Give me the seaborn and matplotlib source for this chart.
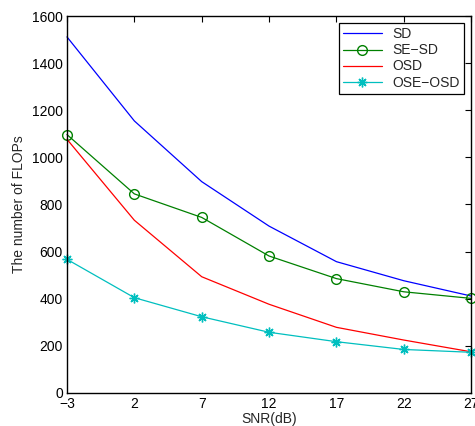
import matplotlib
matplotlib.use("Agg")
import matplotlib.pyplot as plt
import seaborn as sns

# data
snr = [-3, 2, 7, 12, 17, 22, 27]
sd = [1512, 1155, 897, 708, 557, 476, 411]
se_sd = [1097, 845, 745, 581, 485, 429, 401]
osd = [1077, 733, 493, 376, 278, 224, 174]
ose_osd = [567, 404, 323, 257, 217, 184, 172]
names = ["SD", "SE\u2212SD", "OSD", "OSE\u2212OSD"]
series = [sd, se_sd, osd, ose_osd]

sns.set_style("white")
plt.rcParams["font.family"] = ["Liberation Sans", "DejaVu Sans"]

fig = plt.figure(figsize=(4.75, 4.26), dpi=100)
ax = fig.add_axes([0.141, 0.078, 0.851, 0.884])

colors = ["#0000ff", "#008000", "#ff0000", "#00bfbf"]
# MATLAB style: hollow circle and an 8-armed asterisk
markers = [None, "o", None, (8, 2, 0)]
for vals, n, c, m in zip(series, names, colors, markers):
    sns.lineplot(x=snr, y=vals, color=c, marker=m, label=n, ax=ax,
                 linewidth=0.9, markersize=7,
                 markerfacecolor="none", markeredgecolor=c,
                 markeredgewidth=1.0, clip_on=False)

ax.set_xlim(-3, 27)
ax.set_ylim(0, 1600)
ax.set_xticks(snr)
ax.set_xticklabels(["\u22123"] + [str(v) for v in snr[1:]])
ax.set_yticks(range(0, 1601, 200))
ax.tick_params(direction="in", top=True, right=True, length=4, labelsize=10,
               width=0.8, colors="black", pad=3)
for sp in ax.spines.values():
    sp.set_color("black")
    sp.set_linewidth(1.0)
ax.set_xlabel("SNR(dB)", fontsize=10, labelpad=1)
ax.set_ylabel("The number of FLOPs", fontsize=10, labelpad=4)

leg = ax.legend(loc="upper right", fontsize=10, frameon=True, fancybox=False,
                edgecolor="black", framealpha=1, borderaxespad=0.5,
                handlelength=2.8, labelspacing=0.15, borderpad=0.3,
                numpoints=1)
leg.get_frame().set_linewidth(0.9)

fig.savefig("out.png", dpi=100)
